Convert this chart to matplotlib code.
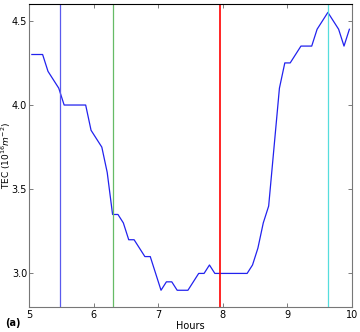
import numpy as np
import matplotlib
matplotlib.use("Agg")
import matplotlib.pyplot as plt

# TEC samples every 5 minutes
hours = 5 + 1/24 + np.arange(60) / 12.0
tec = [4.30, 4.30, 4.30, 4.20, 4.15, 4.10, 4.00, 4.00, 4.00, 4.00,
       4.00, 3.85, 3.80, 3.75, 3.60, 3.35, 3.35, 3.30, 3.20, 3.20,
       3.15, 3.10, 3.10, 3.00, 2.90, 2.95, 2.95, 2.90, 2.90, 2.90,
       2.95, 3.00, 3.00, 3.05, 3.00, 3.00, 3.00, 3.00, 3.00, 3.00,
       3.00, 3.05, 3.15, 3.30, 3.40, 3.75, 4.10, 4.25, 4.25, 4.30,
       4.35, 4.35, 4.35, 4.45, 4.50, 4.55, 4.50, 4.45, 4.35, 4.45]

event_times = [5.47, 6.305, 7.96, 9.633]
event_colors = ["#5a5aee", "#66bb66", "red", "#55dddd"]
event_widths = [0.9, 0.9, 1.2, 0.9]

fig = plt.figure(figsize=(3.6, 3.32), dpi=100)
ax = fig.add_axes([0.081, 0.075, 0.897, 0.913])

ax.plot(hours, tec, color="#2222ee", linewidth=0.9)
for t, c, w in zip(event_times, event_colors, event_widths):
    ax.axvline(t, color=c, linewidth=w)

ax.set_xlim(5, 10)
ax.set_ylim(2.8, 4.6)
ax.set_xticks([5, 6, 7, 8, 9, 10])
ax.set_yticks([3.0, 3.5, 4.0, 4.5])
ax.set_yticklabels(["3.0", "3.5", "4.0", "4.5"])
ax.tick_params(direction="in", top=True, right=True, labelsize=7,
               length=3, width=0.6, color="#666666", pad=2)
ax.tick_params(axis="y", pad=1.5)
for side in ["left", "bottom", "right"]:
    ax.spines[side].set_color("#777777")
ax.spines["top"].set_color("black")

ax.set_xlabel("Hours", fontsize=7, labelpad=1)
ax.set_ylabel(r"TEC ($10^{16} m^{-2}$)", fontsize=6.5, va="center")
ax.yaxis.set_label_coords(-0.071, 0.5)
fig.text(0.014, 0.018, "(a)", fontsize=7, fontweight="bold")

fig.savefig("out.png", dpi=100)
